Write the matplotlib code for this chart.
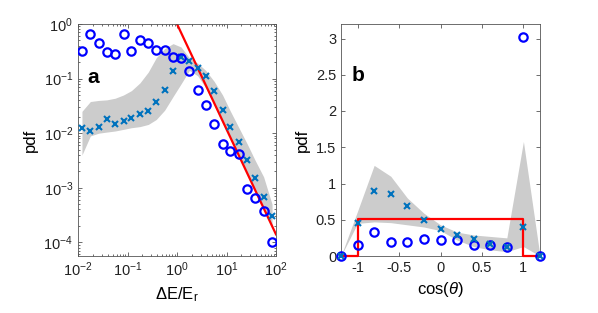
import numpy as np
import matplotlib
matplotlib.use("Agg")
import matplotlib.pyplot as plt

plt.rcParams['font.family'] = ['Liberation Sans', 'DejaVu Sans']
plt.rcParams['mathtext.fontset'] = 'custom'
plt.rcParams['mathtext.rm'] = 'Liberation Sans'
plt.rcParams['mathtext.it'] = 'Liberation Sans:italic'

# ---- panel a data (log10 values) ----
a_logx = [-1.92, -1.75, -1.58, -1.42, -1.25, -1.08, -0.92, -0.75, -0.58, -0.42, -0.25, -0.08,
          0.08, 0.25, 0.42, 0.58, 0.75, 0.92, 1.08, 1.25, 1.42, 1.58, 1.75, 1.92]
a_circ = [0.32, 0.66, 0.44, 0.31, 0.28, 0.66, 0.32, 0.51, 0.44, 0.34, 0.33, 0.25,
          0.24, 0.135, 0.062, 0.033, 0.0148, 0.0063, 0.0047, 0.0041, 0.00095, 0.00066, 0.00037, 0.000103]
a_cross = [0.0122, 0.011, 0.0132, 0.018, 0.0148, 0.017, 0.019, 0.0225, 0.026, 0.037, 0.062, 0.14,
           0.245, 0.21, 0.158, 0.112, 0.06, 0.027, 0.0132, 0.0068, 0.0032, 0.00148, 0.00068, 0.0003]
a_band_lo = [-2.4, -2.05, -2.0, -1.98, -1.96, -1.93, -1.90, -1.88, -1.84, -1.75, -1.58, -1.33,
             -1.1, -0.85, -0.95, -1.17, -1.48, -1.82, -2.1, -2.42, -2.75, -3.05, -3.4, -3.72]
a_band_hi = [-1.6, -1.42, -1.40, -1.39, -1.36, -1.30, -1.22, -1.08, -0.88, -0.62, -0.45, -0.36,
             -0.42, -0.62, -0.72, -0.85, -1.05, -1.3, -1.6, -1.9, -2.2, -2.5, -2.8, -3.3]
a_red_x = [1.0, 100.0]
a_red_y = [1.0, 1.4e-4]

# ---- panel b data ----
b_x = [-1.2, -1.0, -0.8, -0.6, -0.4, -0.2, 0.0, 0.2, 0.4, 0.6, 0.8, 1.0, 1.2]
b_circ = [0.0, 0.152, 0.327, 0.2, 0.19, 0.23, 0.225, 0.215, 0.152, 0.156, 0.13, 3.02, 0.0]
b_cross = [0.0, 0.46, 0.89, 0.86, 0.69, 0.5, 0.37, 0.29, 0.23, 0.166, 0.13, 0.40, 0.0]
b_band_lo = [0.0, 0.45, 0.47, 0.46, 0.43, 0.40, 0.35, 0.22, 0.13, 0.085, 0.06, 0.13, 0.0]
b_band_hi = [0.0, 0.62, 1.25, 1.10, 0.80, 0.59, 0.43, 0.33, 0.29, 0.27, 0.25, 1.58, 0.0]
b_red_x = [-1.2, -1.0, -1.0, 1.0, 1.0, 1.2]
b_red_y = [0.0, 0.0, 0.505, 0.505, 0.0, 0.0]

circ_col = '#0000ff'
cross_col = '#0072bd'
band_col = '#cccccc'
ax_col = '#555555'

fig = plt.figure(figsize=(5.98, 3.13), dpi=100)
axa = fig.add_axes([78 / 598, 57 / 313, 198 / 598, 232 / 313])
axb = fig.add_axes([341 / 598, 57 / 313, 199 / 598, 232 / 313])

# panel a
xa = 10 ** np.array(a_logx)
axa.fill_between(xa, 10 ** np.array(a_band_lo), 10 ** np.array(a_band_hi),
                 color=band_col, lw=0, zorder=1)
axa.plot(xa, a_cross, 'x', color=cross_col, ms=4, mew=1.5, zorder=3)
axa.plot(a_red_x, a_red_y, '-', color='red', lw=1.6, zorder=2)
axa.plot(xa, a_circ, 'o', mfc='none', mec=circ_col, ms=6, mew=1.6, zorder=4)
axa.set_xscale('log')
axa.set_yscale('log')
axa.set_xlim(1e-2, 1e2)
axa.set_ylim(10 ** -4.25, 1)
axa.set_xticks([1e-2, 1e-1, 1e0, 1e1, 1e2])
axa.set_yticks([1e-4, 1e-3, 1e-2, 1e-1, 1e0])
axa.set_xlabel(r'$\Delta$E/E$_\mathrm{r}$', fontsize=12)
axa.set_ylabel('pdf', fontsize=12)
axa.text(0.045, 0.77, 'a', transform=axa.transAxes, fontsize=15, fontweight='bold',
         va='center', ha='left')

# panel b
axb.fill_between(b_x, b_band_lo, b_band_hi, color=band_col, lw=0, zorder=1)
axb.plot(b_red_x, b_red_y, '-', color='red', lw=1.6, zorder=5, clip_on=False)
axb.plot(b_x, b_circ, 'o', mfc='none', mec=circ_col, ms=6, mew=1.6, zorder=6, clip_on=False)
axb.plot(b_x, b_cross, 'x', color=cross_col, ms=4, mew=1.5, zorder=7, clip_on=False)
axb.set_xlim(-1.2, 1.2)
axb.set_ylim(0, 3.2)
axb.set_xticks([-1, -0.5, 0, 0.5, 1])
axb.set_xticklabels(['-1', '-0.5', '0', '0.5', '1'])
axb.set_yticks([0, 0.5, 1, 1.5, 2, 2.5, 3])
axb.set_yticklabels(['0', '0.5', '1', '1.5', '2', '2.5', '3'])
axb.set_xlabel(r'cos($\theta$)', fontsize=12)
axb.set_ylabel('pdf', fontsize=12)
axb.text(0.055, 0.78, 'b', transform=axb.transAxes, fontsize=15, fontweight='bold',
         va='center', ha='left')

for ax in (axa, axb):
    for s in ax.spines.values():
        s.set_color(ax_col)
        s.set_linewidth(0.6)
    ax.tick_params(which='both', direction='in', top=True, right=True,
                   color=ax_col, width=0.6, labelsize=10.5, labelcolor='#222222')
    ax.tick_params(which='major', length=3)
    ax.tick_params(which='minor', length=1.6)

fig.savefig('out.png', dpi=100)
